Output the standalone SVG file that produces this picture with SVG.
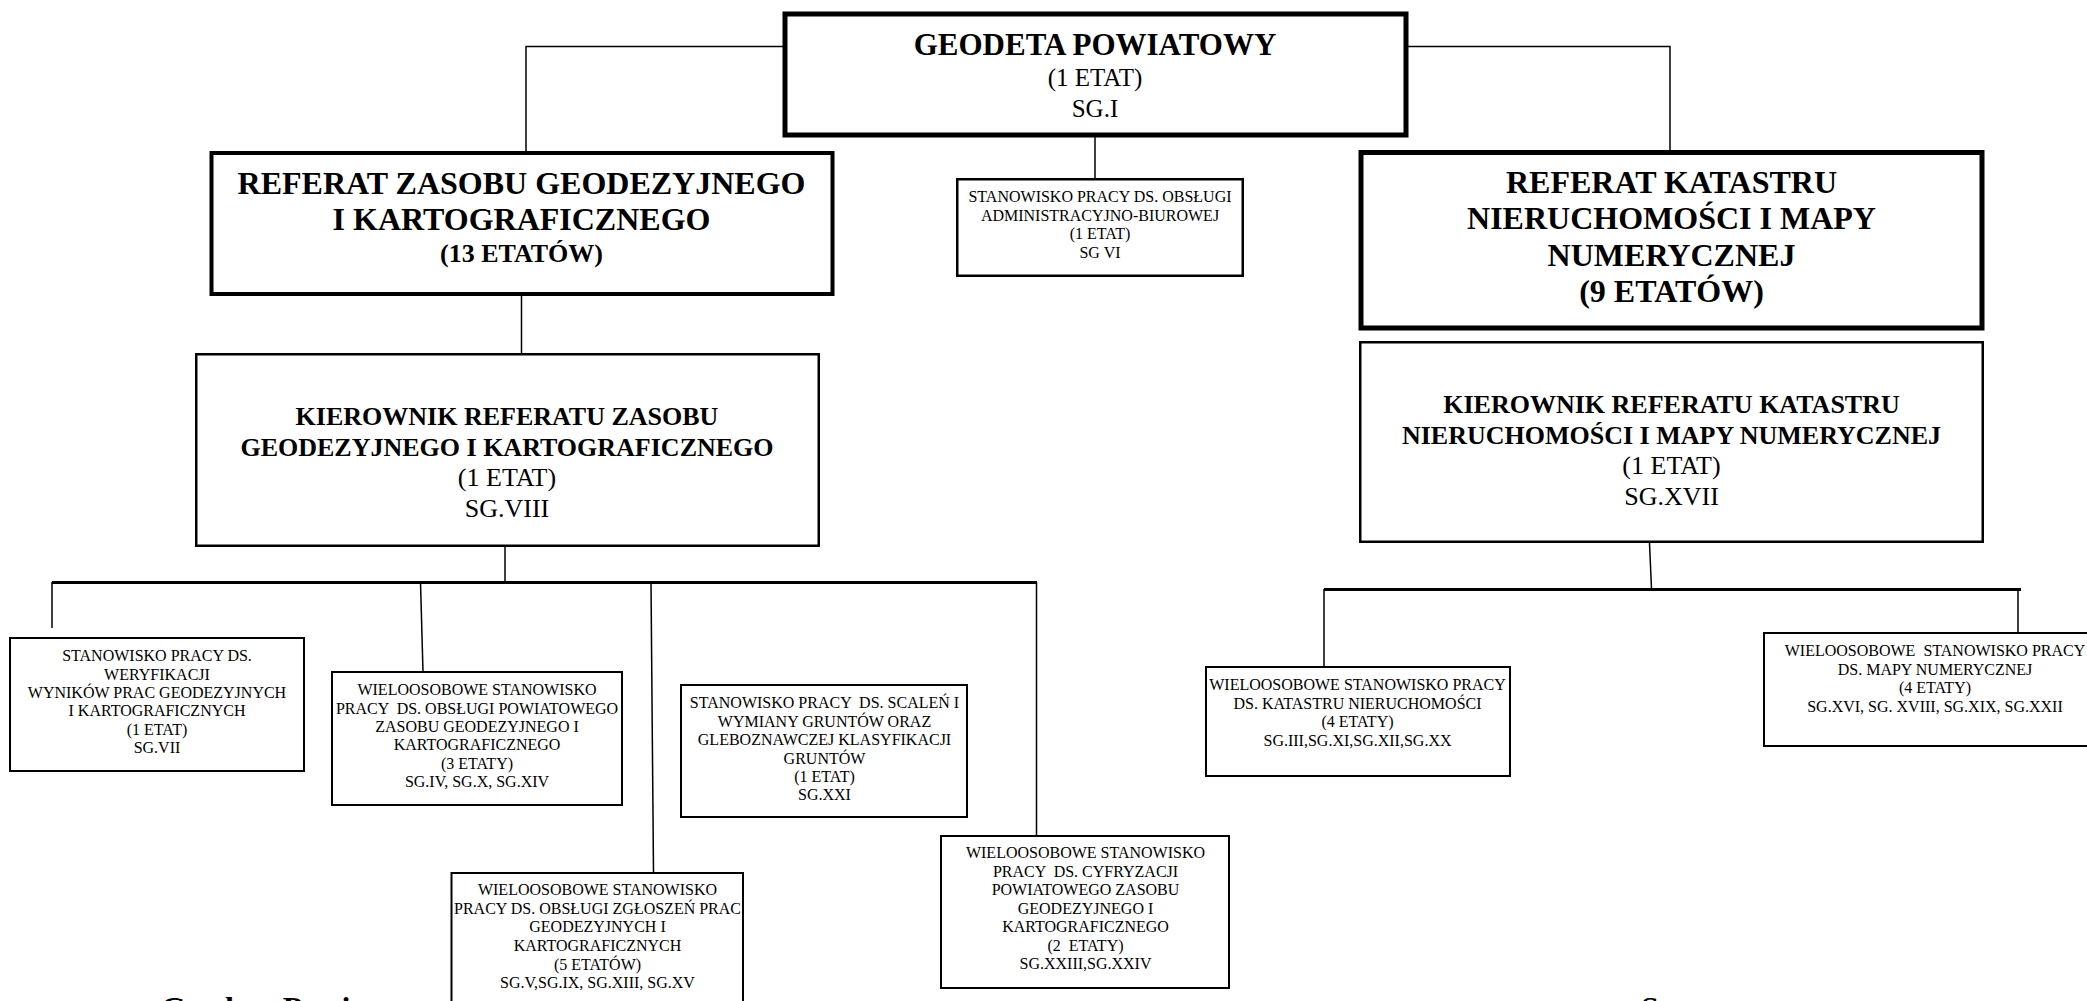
<svg xmlns="http://www.w3.org/2000/svg" width="2087" height="1001" viewBox="0 0 2087 1001">
<style>
text { font-family: "Liberation Serif", "Times New Roman", serif; fill: #000; white-space: pre; text-anchor: middle; }
.b32 { font-size: 32px; font-weight: bold; }
.b31 { font-size: 31px; font-weight: bold; }
.b26 { font-size: 26px; font-weight: bold; }
.r26 { font-size: 26px; }
.r25 { font-size: 25px; }
.s16 { font-size: 16px; }
.foot { font-size: 32px; font-weight: bold; text-anchor: start; }
rect { fill: #fff; stroke: #000; }
.thick { stroke-width: 5; }
.t4 { stroke-width: 4; }
.mid { stroke-width: 2.5; }
.thin { stroke-width: 2; }
.conn line, .conn polyline { stroke: #000; stroke-width: 1.5; fill: none; }
.conn .bus { stroke-width: 2.8; }
</style>

<g id="connectors" class="conn">
  <polyline points="783,46.5 526,46.5 526,151"/>
  <polyline points="1408,46.5 1670,46.5 1670,150"/>
  <line x1="1095" y1="137" x2="1095" y2="179"/>
  <line x1="521.5" y1="296" x2="521.5" y2="354"/>
  <line x1="505" y1="547" x2="505" y2="582"/>
  <line class="bus" x1="52" y1="582.5" x2="1037" y2="582.5"/>
  <line x1="52" y1="582" x2="52" y2="628"/>
  <line x1="420.5" y1="582" x2="423" y2="672"/>
  <line x1="651" y1="583" x2="653.5" y2="873"/>
  <line x1="1036.5" y1="582" x2="1036.5" y2="836"/>
  <line x1="1649.5" y1="543" x2="1651.5" y2="589"/>
  <line class="bus" x1="1324" y1="589.5" x2="2021" y2="589.5"/>
  <line x1="1324" y1="589" x2="1324" y2="667"/>
  <line x1="2018" y1="589" x2="2018" y2="633"/>
</g>

<g id="geodeta-powiatowy">
  <rect class="thick" x="785" y="14" width="621" height="121"/>
  <text class="b31" x="1095" y="55">GEODETA POWIATOWY</text>
  <text class="r25" x="1095" y="86">(1 ETAT)</text>
  <text class="r25" x="1095" y="117">SG.I</text>
</g>

<g id="referat-zasobu">
  <rect class="t4" x="211.5" y="153" width="621" height="141"/>
  <text class="b32" x="521.5" y="194">REFERAT ZASOBU GEODEZYJNEGO</text>
  <text class="b32" x="521.5" y="230">I KARTOGRAFICZNEGO</text>
  <text class="b26" x="521.5" y="262">(13 ETATÓW)</text>
</g>

<g id="obsluga-administracyjna">
  <rect class="mid" x="957.25" y="179.25" width="285.5" height="96.5"/>
  <text class="s16" x="1100" y="202">STANOWISKO PRACY DS. OBSŁUGI</text>
  <text class="s16" x="1100" y="220.5">ADMINISTRACYJNO-BIUROWEJ</text>
  <text class="s16" x="1100" y="239">(1 ETAT)</text>
  <text class="s16" x="1100" y="257.5">SG VI</text>
</g>

<g id="referat-katastru">
  <rect class="thick" x="1361" y="152.5" width="621" height="175.5"/>
  <text class="b32" x="1671.5" y="193">REFERAT KATASTRU</text>
  <text class="b32" x="1671.5" y="229">NIERUCHOMOŚCI I MAPY</text>
  <text class="b32" x="1671.5" y="266">NUMERYCZNEJ</text>
  <text class="b32" x="1671.5" y="302">(9 ETATÓW)</text>
</g>

<g id="kierownik-katastru">
  <rect class="mid" x="1360.25" y="342.25" width="622.5" height="199.5"/>
  <text class="b26" x="1671.5" y="413">KIEROWNIK REFERATU KATASTRU</text>
  <text class="b26" x="1671.5" y="444">NIERUCHOMOŚCI I MAPY NUMERYCZNEJ</text>
  <text class="r26" x="1671.5" y="474">(1 ETAT)</text>
  <text class="r26" x="1671.5" y="505">SG.XVII</text>
</g>

<g id="kierownik-zasobu">
  <rect class="mid" x="196.25" y="354.25" width="622.5" height="191.5"/>
  <text class="b26" x="507" y="425">KIEROWNIK REFERATU ZASOBU</text>
  <text class="b26" x="507" y="456">GEODEZYJNEGO I KARTOGRAFICZNEGO</text>
  <text class="r26" x="507" y="486">(1 ETAT)</text>
  <text class="r26" x="507" y="517">SG.VIII</text>
</g>

<g id="weryfikacja">
  <rect class="thin" x="10" y="638" width="294" height="133"/>
  <text class="s16" x="157" y="661">STANOWISKO PRACY DS.</text>
  <text class="s16" x="157" y="679.5">WERYFIKACJI</text>
  <text class="s16" x="157" y="698">WYNIKÓW PRAC GEODEZYJNYCH</text>
  <text class="s16" x="157" y="716">I KARTOGRAFICZNYCH</text>
  <text class="s16" x="157" y="734.5">(1 ETAT)</text>
  <text class="s16" x="157" y="753">SG.VII</text>
</g>

<g id="obsluga-zasobu">
  <rect class="thin" x="332" y="672" width="290" height="133"/>
  <text class="s16" x="477" y="695">WIELOOSOBOWE STANOWISKO</text>
  <text class="s16" x="477" y="713.5">PRACY  DS. OBSŁUGI POWIATOWEGO</text>
  <text class="s16" x="477" y="732">ZASOBU GEODEZYJNEGO I</text>
  <text class="s16" x="477" y="750">KARTOGRAFICZNEGO</text>
  <text class="s16" x="477" y="768.5">(3 ETATY)</text>
  <text class="s16" x="477" y="787">SG.IV, SG.X, SG.XIV</text>
</g>

<g id="scalenia">
  <rect class="thin" x="681" y="685" width="286" height="132"/>
  <text class="s16" x="824.5" y="708">STANOWISKO PRACY  DS. SCALEŃ I</text>
  <text class="s16" x="824.5" y="726.5">WYMIANY GRUNTÓW ORAZ</text>
  <text class="s16" x="824.5" y="745">GLEBOZNAWCZEJ KLASYFIKACJI</text>
  <text class="s16" x="824.5" y="763.5">GRUNTÓW</text>
  <text class="s16" x="824.5" y="782">(1 ETAT)</text>
  <text class="s16" x="824.5" y="800">SG.XXI</text>
</g>

<g id="zgloszenia">
  <rect class="thin" x="451.5" y="873" width="291.5" height="140"/>
  <text class="s16" x="597.5" y="895">WIELOOSOBOWE STANOWISKO</text>
  <text class="s16" x="597.5" y="913.5">PRACY DS. OBSŁUGI ZGŁOSZEŃ PRAC</text>
  <text class="s16" x="597.5" y="932">GEODEZYJNYCH I</text>
  <text class="s16" x="597.5" y="951">KARTOGRAFICZNYCH</text>
  <text class="s16" x="597.5" y="969.5">(5 ETATÓW)</text>
  <text class="s16" x="597.5" y="988">SG.V,SG.IX, SG.XIII, SG.XV</text>
</g>

<g id="cyfryzacja">
  <rect class="thin" x="941" y="836" width="288" height="152"/>
  <text class="s16" x="1085.5" y="858">WIELOOSOBOWE STANOWISKO</text>
  <text class="s16" x="1085.5" y="876.5">PRACY  DS. CYFRYZACJI</text>
  <text class="s16" x="1085.5" y="895">POWIATOWEGO ZASOBU</text>
  <text class="s16" x="1085.5" y="913.5">GEODEZYJNEGO I</text>
  <text class="s16" x="1085.5" y="932">KARTOGRAFICZNEGO</text>
  <text class="s16" x="1085.5" y="950.5">(2  ETATY)</text>
  <text class="s16" x="1085.5" y="969">SG.XXIII,SG.XXIV</text>
</g>

<g id="kataster">
  <rect class="thin" x="1206" y="667" width="304" height="109"/>
  <text class="s16" x="1357.5" y="690">WIELOOSOBOWE STANOWISKO PRACY</text>
  <text class="s16" x="1357.5" y="708.5">DS. KATASTRU NIERUCHOMOŚCI</text>
  <text class="s16" x="1357.5" y="727">(4 ETATY)</text>
  <text class="s16" x="1357.5" y="745.5">SG.III,SG.XI,SG.XII,SG.XX</text>
</g>

<g id="mapa-numeryczna">
  <rect class="thin" x="1764" y="633" width="345" height="113"/>
  <text class="s16" x="1935" y="656">WIELOOSOBOWE  STANOWISKO PRACY</text>
  <text class="s16" x="1935" y="674.5">DS. MAPY NUMERYCZNEJ</text>
  <text class="s16" x="1935" y="693">(4 ETATY)</text>
  <text class="s16" x="1935" y="711.5">SG.XVI, SG. XVIII, SG.XIX, SG.XXII</text>
</g>

<g id="footer">
  <text class="foot" x="161" y="1019">Geodeta Powiatowy</text>
  <text class="foot" x="1641" y="1019">Starosta</text>
</g>
</svg>
